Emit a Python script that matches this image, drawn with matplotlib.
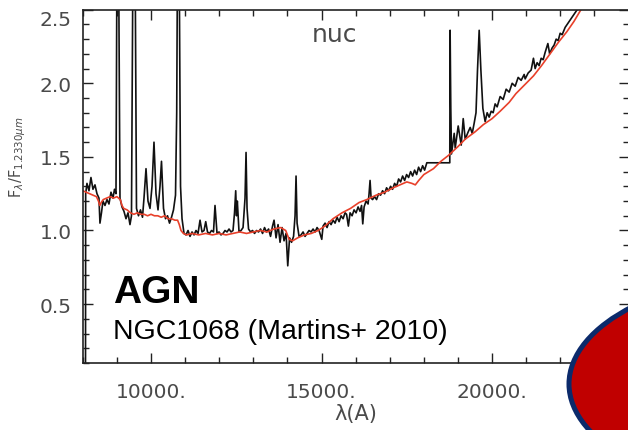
import matplotlib
matplotlib.use('Agg')
import matplotlib.pyplot as plt
from matplotlib.pyplot import MultipleLocator, FixedLocator, FuncFormatter
from matplotlib.patches import Ellipse

# observed nuclear spectrum (black)
wave_obs = [8080, 8085, 8123, 8182, 8240, 8299, 8358, 8416, 8475, 8504, 8548, 8592, 8651, 8710, 8768, 8827,
            8886, 8930, 8974, 9003, 9047, 9091, 9150, 9208, 9267, 9326, 9384, 9428, 9472, 9531, 9575, 9634,
            9692, 9751, 9795, 9854, 9912, 9971, 10030, 10088, 10147, 10206, 10264, 10308, 10367, 10426, 10484,
            10543, 10602, 10660, 10719, 10754, 10778, 10822, 10866, 10910, 10968, 11027, 11086, 11144, 11203,
            11262, 11320, 11379, 11438, 11496, 11555, 11605, 11657, 11716, 11775, 11833, 11877, 11936, 11995,
            12053, 12112, 12170, 12229, 12288, 12347, 12405, 12449, 12484, 12508, 12531, 12581, 12640, 12699,
            12757, 12787, 12816, 12860, 12919, 12977, 13036, 13095, 13153, 13212, 13271, 13329, 13388, 13447,
            13505, 13564, 13608, 13667, 13725, 13784, 13843, 13901, 13960, 14010, 14063, 14121, 14180, 14224,
            14253, 14283, 14341, 14400, 14459, 14517, 14576, 14634, 14693, 14752, 14811, 14869, 14928, 15007,
            15045, 15104, 15162, 15221, 15280, 15339, 15397, 15456, 15515, 15573, 15632, 15690, 15734, 15787,
            15837, 15896, 15954, 16013, 16072, 16130, 16174, 16209, 16248, 16306, 16365, 16394, 16423, 16453,
            16497, 16555, 16614, 16673, 16731, 16790, 16849, 16907, 16966, 17025, 17083, 17142, 17201, 17260,
            17318, 17377, 17436, 17494, 17553, 17612, 17670, 17729, 17788, 17846, 17905, 17964, 18022, 18087,
            18760, 18770, 18790, 18810, 18890, 18919, 19007, 19095, 19154, 19212, 19300, 19359, 19418, 19476,
            19529, 19573, 19622, 19672, 19730, 19797, 19856, 19915, 19973, 20032, 20090, 20149, 20237, 20325,
            20413, 20501, 20589, 20677, 20765, 20853, 20941, 20970, 21058, 21146, 21213, 21263, 21321, 21380,
            21439, 21498, 21556, 21636, 21688, 21761, 21820, 21879, 21938, 21996, 22055, 22143, 22231, 22319,
            22407, 22495, 22613, 22700]
flux_obs = [0.00, 1.25, 1.32, 1.27, 1.36, 1.28, 1.31, 1.25, 1.22, 1.05, 1.12, 1.20, 1.17, 1.21, 1.18, 1.26,
            1.22, 1.28, 1.25, 2.90, 3.00, 1.22, 1.16, 1.13, 1.08, 1.12, 1.04, 1.10, 2.90, 3.00, 1.15, 1.10,
            1.14, 1.09, 1.22, 1.42, 1.20, 1.15, 1.30, 1.60, 1.25, 1.14, 1.30, 1.47, 1.15, 1.08, 1.10,
            1.05, 1.09, 1.14, 1.24, 1.80, 2.90, 3.00, 1.30, 1.08, 0.98, 0.97, 1.00, 0.96, 0.99,
            0.97, 1.00, 0.98, 1.07, 0.99, 1.00, 1.06, 0.99, 0.98, 1.00, 0.99, 1.17, 0.98, 0.99,
            0.97, 0.98, 1.00, 0.99, 1.01, 0.99, 1.00, 1.12, 1.27, 1.10, 1.20, 0.99, 1.00, 1.02,
            1.22, 1.53, 1.15, 1.01, 0.99, 1.00, 0.98, 1.00, 0.99, 1.01, 0.98, 1.02, 0.99, 1.01,
            0.96, 1.03, 1.07, 0.95, 1.04, 0.92, 1.02, 0.93, 0.98, 0.76, 0.95, 0.92, 0.96, 1.10,
            1.37, 1.05, 0.96, 0.97, 0.99, 0.96, 0.98, 1.00, 0.99, 1.01, 0.99, 1.02, 1.00, 0.94,
            1.03, 1.05, 1.02, 1.06, 1.04, 1.07, 1.05, 1.09, 1.06, 1.10, 1.08, 1.12, 1.11, 1.03,
            1.12, 1.10, 1.14, 1.12, 1.16, 1.13, 1.17, 1.045, 1.16, 1.20, 1.18, 1.25, 1.34, 1.22,
            1.21, 1.23, 1.21, 1.25, 1.24, 1.27, 1.25, 1.29, 1.27, 1.30, 1.28, 1.32, 1.30, 1.35,
            1.33, 1.37, 1.34, 1.38, 1.36, 1.40, 1.37, 1.41, 1.38, 1.43, 1.40, 1.44, 1.41, 1.46,
            1.46, 2.36, 1.83, 1.52, 1.66, 1.56, 1.71, 1.58, 1.76, 1.62, 1.67, 1.70, 1.66, 1.73,
            1.80, 2.09, 2.36, 2.09, 1.83, 1.74, 1.80, 1.77, 1.81, 1.80, 1.86, 1.84, 1.91, 1.89,
            1.96, 1.94, 2.00, 1.98, 2.04, 2.02, 2.06, 2.03, 2.07, 2.09, 2.17, 2.10, 2.14, 2.12,
            2.17, 2.16, 2.21, 2.27, 2.20, 2.24, 2.26, 2.30, 2.29, 2.34, 2.33, 2.38, 2.41, 2.44,
            2.47, 2.50, 2.54, 2.57]

# stellar population fit (red)
wave_mod = [8000, 8100, 8200, 8300, 8400, 8460, 8500, 8540, 8600, 8700, 8800, 8900, 9000, 9100, 9150, 9200,
            9300, 9400, 9500, 9600, 9700, 9800, 9900, 10000, 10100, 10200, 10300, 10400, 10500, 10600,
            10700, 10780, 10830, 10880, 10950, 11050, 11200, 11400, 11600, 11800, 12000, 12200, 12400,
            12600, 12800, 13000, 13200, 13400, 13600, 13800, 13950, 14050, 14150, 14300, 14500, 14700,
            14900, 15100, 15337, 15600, 15850, 16100, 16326, 16600, 16850, 17100, 17300, 17500, 17650,
            17750, 17850, 18000, 18281, 18500, 18721, 19000, 19210, 19500, 19748, 20000, 20236, 20500,
            20700, 21000, 21213, 21450, 21700, 21950, 22191, 22400, 22631, 22800]
flux_mod = [1.27, 1.26, 1.25, 1.24, 1.23, 1.20, 1.17, 1.19, 1.21, 1.22, 1.23, 1.22, 1.23, 1.21, 1.17, 1.15,
            1.14, 1.12, 1.11, 1.12, 1.11, 1.11, 1.10, 1.11, 1.10, 1.10, 1.09, 1.10, 1.08, 1.08,
            1.07, 1.07, 1.04, 1.00, 0.98, 0.97, 0.98, 0.97, 0.98, 0.97, 0.98, 0.97, 0.98,
            0.99, 0.98, 0.99, 1.00, 0.99, 1.01, 1.02, 1.00, 0.94, 0.93, 0.95, 0.97, 0.98,
            1.00, 1.03, 1.08, 1.12, 1.15, 1.19, 1.21, 1.24, 1.26, 1.29, 1.31, 1.33, 1.32,
            1.31, 1.34, 1.38, 1.42, 1.47, 1.51, 1.57, 1.62, 1.67, 1.72, 1.76, 1.81, 1.87,
            1.93, 2.00, 2.05, 2.12, 2.20, 2.28, 2.35, 2.42, 2.51, 2.56]

plt.rcParams.update({'font.family': 'DejaVu Sans'})
fig = plt.figure(figsize=(6.28, 4.31), dpi=100)
ax = fig.add_axes([0.1318, 0.1555, 0.869, 0.8197])

ax.plot(wave_obs, flux_obs, color='#111111', linewidth=1.2)
ax.plot(wave_mod, flux_mod, color='#e8402a', linewidth=1.2)

ax.set_xlim(8000, 24000)
ax.set_ylim(0.1, 2.5)
ax.xaxis.set_major_locator(FixedLocator([10000, 15000, 20000]))
ax.xaxis.set_minor_locator(MultipleLocator(1000))
ax.yaxis.set_major_locator(FixedLocator([0.5, 1.0, 1.5, 2.0, 2.5]))
ax.yaxis.set_minor_locator(MultipleLocator(0.1))
ax.xaxis.set_major_formatter(FuncFormatter(lambda v, p: '%d.' % v))
ax.yaxis.set_major_formatter(FuncFormatter(lambda v, p: '%.1f' % v))

for s in ax.spines.values():
    s.set_color('#222222')
    s.set_linewidth(1.2)
ax.tick_params(which='both', direction='in', top=True, right=True, color='#222222',
               labelcolor='#4a4a4a', labelsize=14.5)
ax.tick_params(which='major', length=7.5, width=1)
ax.tick_params(which='minor', length=4, width=1)
ax.tick_params(axis='x', pad=14)
ax.tick_params(axis='y', pad=8)

# the top label sits just under the frame edge
ax.yaxis.get_major_ticks()[-1].label1.set_verticalalignment('top')

ax.set_ylabel(r'F$_\lambda$/F$_{1.2330\mu m}$', fontsize=10.5, color='#4a4a4a')
ax.yaxis.set_label_coords(-0.1, 0.585)
ax.set_xlabel('λ(A)', fontsize=15, color='#4a4a4a')
ax.xaxis.set_label_coords(0.5, -0.112)

fig.text(312 / 628, 1 - 42 / 431, 'nuc', fontsize=18, color='#4a4a4a', va='baseline')
fig.text(113 / 628, 1 - 303 / 431, 'AGN', fontsize=28, fontweight='bold',
         family='Liberation Sans', color='black', va='baseline')
fig.text(113 / 628, 1 - 339 / 431, 'NGC1068 (Martins+ 2010)', fontsize=20.5,
         family='Liberation Sans', color='black', va='baseline')

blob = Ellipse((789 / 628, 46 / 431), 440 / 628, 220 / 431, transform=fig.transFigure,
               facecolor='#c00000', edgecolor='#0b2a6b', linewidth=3.6, zorder=10)
fig.add_artist(blob)

fig.savefig('out.png', dpi=100)
plt.close()
